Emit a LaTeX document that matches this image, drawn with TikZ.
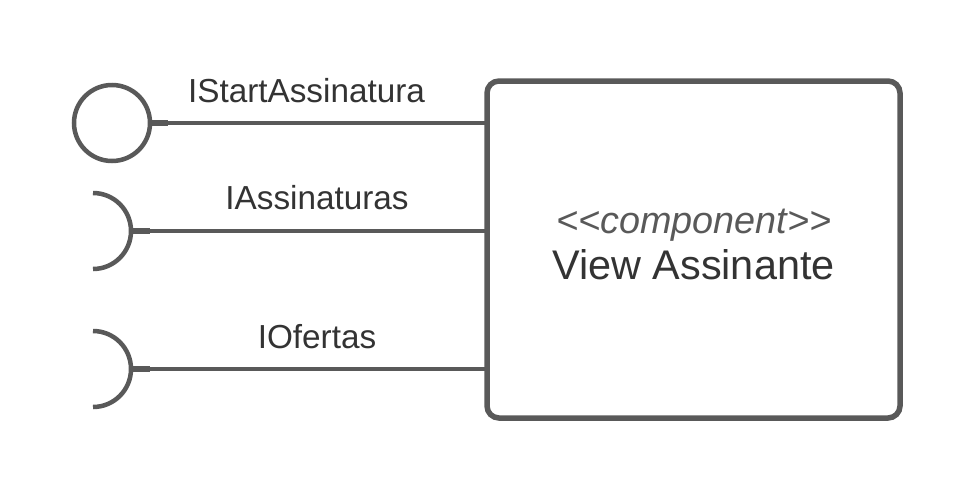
\documentclass[tikz,border=0pt]{standalone}
\usepackage{fontspec}
\setmainfont{Liberation Sans}
\usetikzlibrary{positioning}
\definecolor{linegray}{HTML}{595959}
\definecolor{textgray}{HTML}{333333}
\begin{document}
\begin{tikzpicture}[x=1pt,y=-1pt] % component with interfaces
\tikzstyle{iface} = [circle, draw=linegray, line width=4.5pt, minimum size=76pt, inner sep=0pt] % provided interface (ball)
\tikzstyle{socket} = [draw=linegray, line width=4.5pt] % required interface (socket)
\tikzstyle{wire} = [draw=linegray, line width=3.8pt] % connector
\tikzstyle{stub} = [draw=linegray, line width=5.5pt] % short thick end of connector
\tikzstyle{comp} = [rectangle, draw=linegray, line width=5.5pt, rounded corners=12pt, minimum width=413pt, minimum height=337pt, outer sep=0pt] % component box
\tikzstyle{lbl} = [anchor=base, text=textgray, inner sep=0pt, font=\fontsize{33.3}{40}\selectfont] % texts

\useasboundingbox (0,0) rectangle (975,493);

% component
\node[comp] (view) at (693.5,249.5) {};
\node[lbl, text=linegray, font=\fontsize{37.8}{44}\selectfont\itshape] (stereo) at (694,233) {<\kern0pt<component>\kern0pt>};
\node[lbl, font=\fontsize{41.4}{48}\selectfont] (viewname) at (693.5,279) {View Assinante};

% provided interface
\node[iface] (start) at (112,123) {};
\coordinate (startend) at (168,123);
\draw[stub] (start.east) -- (startend);
\draw[wire] (startend) -- (startend -| view.west);
\node[lbl] (startlbl) at (306.5,102) {IStartAssinatura};

% required interfaces
\coordinate (assin) at (93,231);
\draw[socket] (assin) ++(0,-38) arc[start angle=-90, end angle=90, radius=38];
\coordinate (assinarc) at (131,231);
\coordinate (assinend) at (150,231);
\draw[stub] (assinarc) -- (assinend);
\draw[wire] (assinend) -- (assinend -| view.west);
\node[lbl] (assinlbl) at (317,209) {IAssinaturas};

\coordinate (ofert) at (93,369);
\draw[socket] (ofert) ++(0,-38) arc[start angle=-90, end angle=90, radius=38];
\coordinate (ofertarc) at (131,369);
\coordinate (ofertend) at (150,369);
\draw[stub] (ofertarc) -- (ofertend);
\draw[wire] (ofertend) -- (ofertend -| view.west);
\node[lbl] (ofertlbl) at (317,348) {IOfertas};
\end{tikzpicture}
\end{document}
